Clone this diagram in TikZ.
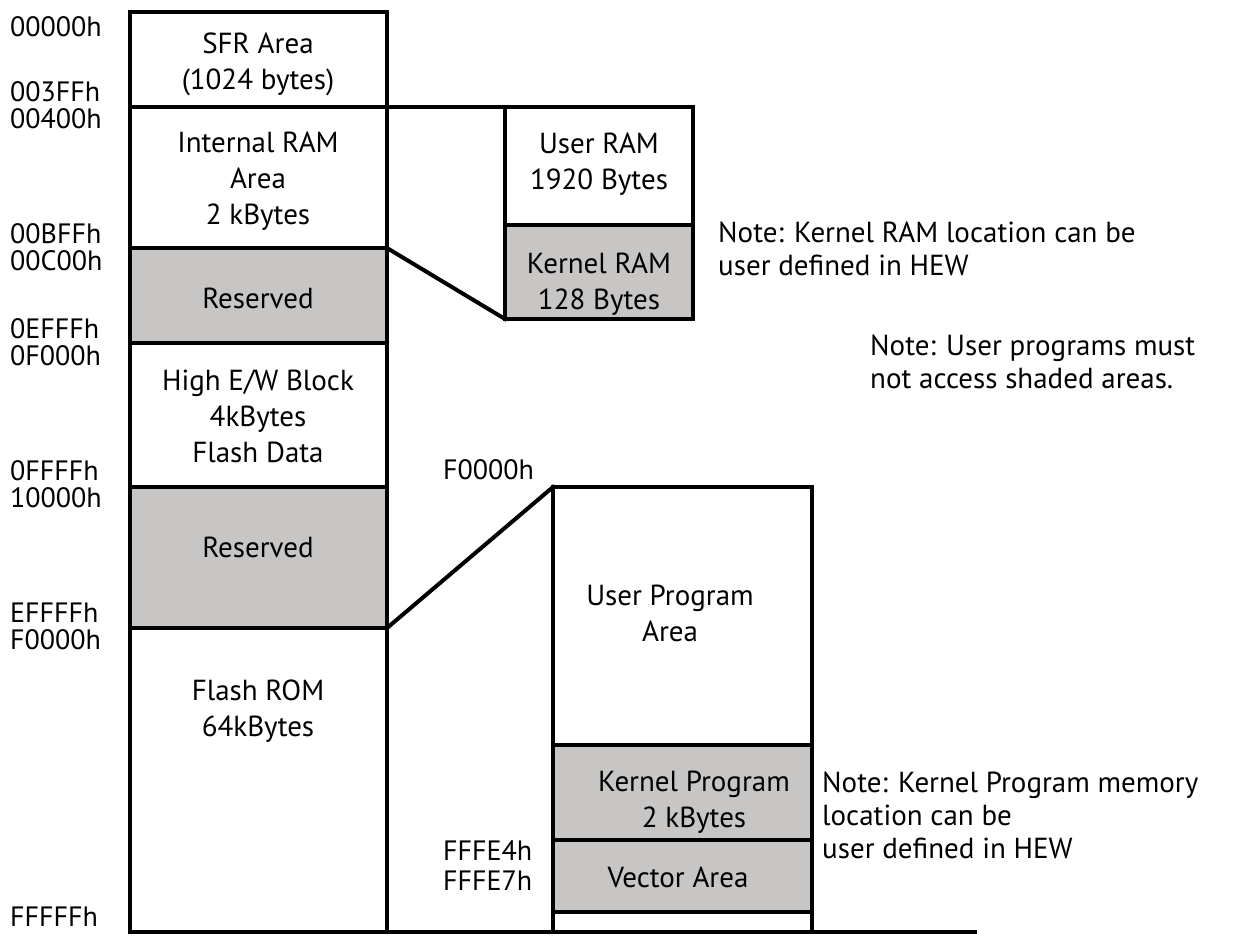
\documentclass[tikz,border=0pt]{standalone}
\usepackage{fontspec}
\setmainfont{PT Sans}
\definecolor{shade}{HTML}{C8C6C5}
\begin{document}
\begin{tikzpicture}[x=1pt,y=-1pt,
  wall/.style={line width=4pt,line join=miter,line cap=rect},
  shaded/.style={fill=shade},
  txt/.style={inner sep=0pt,font=\fontsize{29}{36}\selectfont,align=center,anchor=center},
  addr/.style={inner sep=0pt,font=\fontsize{28}{32}\selectfont,anchor=west},
  note/.style={inner sep=0pt,font=\fontsize{29}{33}\selectfont,align=left,anchor=north west}]
\useasboundingbox (0,0) rectangle (1243,935);
% shaded fills
\fill[shaded] (130,248) rectangle (387,343);
\fill[shaded] (130,487) rectangle (387,628);
\fill[shaded] (505,225) rectangle (693,319);
\fill[shaded] (553,745) rectangle (812,912);
% coordinates
\coordinate (Ltl) at (130,12);
\coordinate (Ltr) at (387,12);
\coordinate (Lbl) at (130,932);
\coordinate (Lbr) at (387,932);
\coordinate (Lramtop) at (387,107);
\coordinate (Lrambot) at (387,248);
\coordinate (Lresbot) at (387,628);
\coordinate (Rtl) at (505,107);
\coordinate (Rtr) at (693,107);
\coordinate (Rbl) at (505,319);
\coordinate (Rbr) at (693,319);
\coordinate (Ptl) at (553,487);
\coordinate (Ptr) at (812,487);
\coordinate (Pbl) at (553,932);
\coordinate (Pbr) at (812,932);
\coordinate (Bend) at (975,932);
% left column
\draw[wall] (Lbl) -- (Ltl) -- (Ltr) -- (Lbr);
\draw[wall] (130,107) -- (Lramtop);
\draw[wall] (130,248) -- (Lrambot);
\draw[wall] (130,343) -- (387,343);
\draw[wall] (130,487) -- (387,487);
\draw[wall] (130,628) -- (Lresbot);
\draw[wall] (Lbl) -- (Bend);
% RAM zoom box
\draw[wall] (Lramtop) -- (Rtl);
\draw[wall] (Rtl) rectangle (Rbr);
\draw[wall] (505,225) -- (693,225);
\draw[wall] (Lrambot) -- (Rbl);
% Program zoom box
\draw[wall] (Pbl) -- (Ptl) -- (Ptr) -- (Pbr);
\draw[wall] (553,745) -- (812,745);
\draw[wall] (553,840) -- (812,840);
\draw[wall] (553,912) -- (812,912);
\draw[wall] (Lresbot) -- (Ptl);
% address labels
\node[addr] (a1) at (10,27) {00000h};
\node[addr] (a2) at (10,92) {003FFh};
\node[addr] (a3) at (10,119) {00400h};
\node[addr] (a4) at (10,234) {00BFFh};
\node[addr] (a5) at (10,261) {00C00h};
\node[addr] (a6) at (10,329) {0EFFFh};
\node[addr] (a7) at (10,356) {0F000h};
\node[addr] (a8) at (10,471) {0FFFFh};
\node[addr] (a9) at (10,498) {10000h};
\node[addr] (a10) at (10,613) {EFFFFh};
\node[addr] (a11) at (10,640) {F0000h};
\node[addr] (a12) at (10,917) {FFFFFh};
\node[addr] (a13) at (443,470) {F0000h};
\node[addr] (a14) at (443,851) {FFFE4h};
\node[addr] (a15) at (443,881) {FFFE7h};
% box texts
\node[txt] (t1) at (258,64) {SFR Area\\(1024 bytes)};
\node[txt] (t2) at (258,181) {Internal RAM\\Area\\2 kBytes};
\node[txt] (t3) at (258,298) {Reserved};
\node[txt] (t4) at (258,416) {High E/W Block\\4kBytes\\Flash Data};
\node[txt] (t5) at (258,547) {Reserved};
\node[txt] (t6) at (258,711) {Flash ROM\\64kBytes};
\node[txt] (t7) at (599,164) {User RAM\\1920 Bytes};
\node[txt] (t8) at (599,284) {Kernel RAM\\128 Bytes};
\node[txt] (t9) at (670,613) {User Program\\Area};
\node[txt] (t10) at (694,802) {Kernel Program\\2 kBytes};
\node[txt] (t11) at (678,877) {Vector Area};
% notes
\node[note] (n1) at (718,222) {Note: Kernel RAM location can be\\user defined in HEW};
\node[note] (n2) at (870,335) {Note: User programs must\\not access shaded areas.};
\node[note] (n3) at (822,772) {Note: Kernel Program memory\\location can be\\user defined in HEW};
\end{tikzpicture}
\end{document}
